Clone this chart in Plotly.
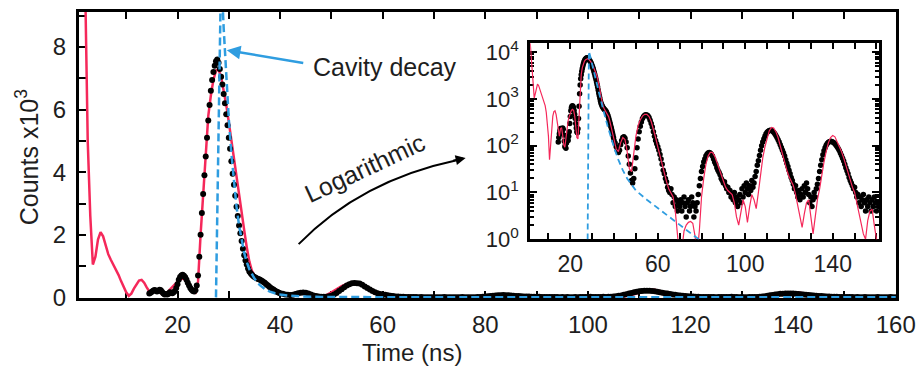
import numpy as np
import plotly.graph_objects as go

# ---------------- measured photon counts ----------------
# 0.25 ns bins across the emission pulse
pulse_start, pulse_step = 14.5, 0.25
pulse_counts = [
    120, 150, 180, 210, 235, 220, 185, 205, 240, 225,          # 14.5 - 16.75
    170, 125, 95, 105, 88, 115, 160, 145, 130, 160,            # 17.0 - 19.25
    200, 300, 420, 560, 650, 700, 720, 690, 640, 560,          # 19.5 - 21.75
    470, 380, 300, 240, 200, 190, 230, 380, 700, 1300,         # 22.0 - 24.25
    2000, 2700, 3300, 3900, 4500, 5100, 5650, 6150, 6600, 6950,  # 24.5 - 26.75
    7200, 7400, 7550, 7600, 7500, 7300, 7050, 6800, 6500, 6200,  # 27.0 - 29.25
    5850, 5500, 5100, 4750, 4350, 3950, 3600, 3250, 2900, 2600,  # 29.5 - 31.75
    2300, 2050, 1800, 1550, 1350, 1180, 1050, 920, 830, 770,     # 32.0 - 34.25
    720, 680, 650, 625, 600, 585, 570, 550, 525, 495,            # 34.5 - 36.75
    465, 430, 395, 360, 325, 295, 265, 240, 215, 190,            # 37.0 - 39.25
    170, 150, 130,                                               # 39.5 - 40.0
]
# 0.5 ns bins for the revivals
tail_start, tail_step = 40.5, 0.5
tail_counts = [
    115, 95, 80, 72, 80, 105, 130, 150, 155, 145,      # 40.5 - 45.0
    120, 90, 60, 40, 26, 18, 16, 20, 32, 55,           # 45.5 - 50.0
    90, 140, 200, 260, 320, 380, 420, 450, 460, 455,   # 50.5 - 55.0
    440, 400, 350, 300, 250, 200, 160, 130, 110, 95,   # 55.5 - 60.0
    80, 65, 52, 40, 30, 25, 20, 17, 13, 11,            # 60.5 - 65.0
    10, 12, 9, 6, 8, 5, 7, 4, 6, 5,                    # 65.5 - 70.0
    7, 4, 6, 8, 5, 3, 6, 7, 4, 5,                      # 70.5 - 75.0
    8, 6, 3, 5, 4, 6, 9, 14, 20, 28,                   # 75.5 - 80.0
    36, 45, 52, 60, 66, 70, 72, 70, 66, 60,            # 80.5 - 85.0
    52, 45, 40, 34, 30, 27, 24, 20, 18, 16,            # 85.5 - 90.0
    17, 14, 12, 13, 10, 11, 8, 9, 7, 10,               # 90.5 - 95.0
    6, 8, 5, 7, 9, 6, 12, 8, 14, 10,                   # 95.5 - 100.0
    16, 12, 9, 14, 11, 18, 13, 16, 22, 28,             # 100.5 - 105.0
    38, 48, 62, 80, 100, 120, 140, 160, 180, 195,      # 105.5 - 110.0
    205, 212, 215, 212, 205, 195, 180, 165, 150, 135,  # 110.5 - 115.0
    120, 105, 92, 80, 70, 60, 50, 42, 36, 30,          # 115.5 - 120.0
    25, 21, 18, 15, 12, 14, 10, 8, 11, 7,              # 120.5 - 125.0
    9, 12, 8, 14, 10, 16, 12, 9, 6, 8,                 # 125.5 - 130.0
    5, 7, 10, 8, 12, 15, 20, 28, 38, 50,               # 130.5 - 135.0
    64, 78, 90, 102, 112, 118, 122, 124, 123, 120,     # 135.5 - 140.0
    116, 110, 103, 95, 87, 79, 70, 62, 54, 47,         # 140.5 - 145.0
    40, 34, 29, 25, 21, 18, 16, 14, 12, 13,            # 145.5 - 150.0
    10, 8, 9, 6, 8, 5, 7, 9, 6, 4,                     # 150.5 - 155.0
    7, 5, 8, 6, 4, 7, 5, 8, 6, 4,                      # 155.5 - 160.0
    6, 5,                                              # 160.5 - 161.0
]

# ---------------- model curve ----------------
theory_fine_start, theory_fine_step = 0.5, 0.5
theory_fine = [
    40000, 40000, 20000, 10000, 5000, 2600, 1050, 1300, 1850, 2080,  # 0.5 - 5.0
    1950, 1650, 1380, 1200, 1050, 900, 720, 520, 330, 160,           # 5.5 - 10.0
    50, 120, 280, 430, 540, 560, 470, 320, 190, 160,                 # 10.5 - 15.0
    230, 245, 170, 105, 93, 150, 250, 340, 420, 500,                 # 15.5 - 20.0
    570, 600, 570, 440, 270, 150, 140, 500, 2000, 3350,              # 20.5 - 25.0
    4700, 5800, 6450, 6950, 7250, 7280, 7050, 6650, 6150, 5600,      # 25.5 - 30.0
    5000, 4400, 3850, 3300, 2700, 2150, 1600, 1150, 850, 700,        # 30.5 - 35.0
    620, 570, 520, 470, 420, 350, 280, 220, 170, 130,                # 35.5 - 40.0
]
theory_coarse_start, theory_coarse_step = 41.0, 1.0
theory_coarse = [
    85, 75, 115, 150, 135, 75, 32, 28, 70, 160,          # 41 - 50
    270, 360, 430, 470, 470, 420, 330, 230, 150, 95,     # 51 - 60
    60, 38, 25, 17, 12, 10, 8, 4, 1.2, 0.4,              # 61 - 70
    0.6, 1.5, 2.0, 2.3, 2.4, 2.2, 1.2, 0.5, 1.5, 8,      # 71 - 80
    20, 40, 60, 72, 72, 60, 45, 32, 24, 17,              # 81 - 90
    13, 11, 10, 9, 6, 3, 2, 4, 7, 5,                     # 91 - 100
    2.3, 5, 9, 7, 4.5, 10, 25, 55, 95, 150,              # 101 - 110
    210, 245, 240, 200, 150, 100, 65, 42, 30, 22,        # 111 - 120
    18, 14, 9, 5, 3, 1.8, 3.5, 6, 7, 3,                  # 121 - 130
    1.3, 3, 7, 12, 25, 45, 75, 115, 150, 165,            # 131 - 140
    155, 125, 95, 75, 55, 38, 25, 17, 13, 10,            # 141 - 150
    6, 4, 2.5, 1.3, 1.0, 2.5, 4, 4.4, 2, 1,              # 151 - 160
    0.8,                                                 # 161
]

# ---------------- bare cavity decay ----------------
cavity_t = [27.5, 28.5, 29.0, 29.5, 30.0, 30.5, 31.0, 31.5, 32.0, 32.5,
            33.0, 33.5, 34.0, 35.0, 36.0, 37.0, 38.0, 39.0, 40.0, 42.0,
            44.0, 46.0, 48.0, 50.0, 55.0, 60.0, 65.0, 70.0, 75.0, 80.0,
            90.0, 100.0, 120.0, 140.0, 160.0]
cavity_c = [0.001, 10500, 8600, 7000, 5700, 4600, 3650, 2900, 2300, 1800,
            1420, 1130, 900, 600, 400, 270, 185, 130, 92, 50,
            30, 20, 14.5, 11, 7, 4.6, 3.0, 2.0, 1.35, 0.9,
            0.4, 0.18, 0.04, 0.008, 0.002]

# ---------------- axis ticks ----------------
main_x_ticks = [20, 40, 60, 80, 100, 120, 140, 160]
main_y_ticks = [0, 2, 4, 6, 8]
inset_x_ticks = [20, 60, 100, 140]
inset_y_ticks = [1, 10, 100, 1000, 10000]
inset_y_labels = ["10<sup>0</sup>", "10<sup>1</sup>", "10<sup>2</sup>",
                  "10<sup>3</sup>", "10<sup>4</sup>"]

# ---------------- assemble series ----------------
t_data = np.concatenate([
    pulse_start + pulse_step * np.arange(len(pulse_counts)),
    tail_start + tail_step * np.arange(len(tail_counts)),
])
c_data = np.array(pulse_counts + tail_counts, dtype=float)

t_theory = np.concatenate([
    theory_fine_start + theory_fine_step * np.arange(len(theory_fine)),
    theory_coarse_start + theory_coarse_step * np.arange(len(theory_coarse)),
])
c_theory = np.array(theory_fine + theory_coarse, dtype=float)

t_cav = np.array(cavity_t)
c_cav = np.array(cavity_c)

RED = "#f5285a"
BLUE = "#2f9de0"
INK = "#1e1e1e"
FONT = "Liberation Sans, Arial, sans-serif"

W, H = 922, 368
ML, MR, MT, MB = 79, 21, 6, 70
PW, PH = W - ML - MR, H - MT - MB


def px(x):
    return (x - ML) / PW


def py(y):
    return (H - MB - y) / PH


fig = go.Figure()

# main panel: linear counts in thousands
fig.add_trace(go.Scatter(x=t_theory, y=c_theory / 1000, mode="lines",
                         line=dict(color=RED, width=2.5),
                         xaxis="x", yaxis="y", showlegend=False))
fig.add_trace(go.Scatter(x=t_data, y=c_data / 1000, mode="markers",
                         marker=dict(color="black", size=6),
                         xaxis="x", yaxis="y", showlegend=False))
fig.add_trace(go.Scatter(x=t_cav, y=c_cav / 1000, mode="lines",
                         line=dict(color=BLUE, width=2.5, dash="8px,4px"),
                         xaxis="x", yaxis="y", showlegend=False))

# inset: logarithmic counts
fig.add_trace(go.Scatter(x=t_data, y=c_data, mode="markers",
                         marker=dict(color="black", size=5.5),
                         xaxis="x2", yaxis="y2", showlegend=False))
fig.add_trace(go.Scatter(x=t_theory, y=c_theory, mode="lines",
                         line=dict(color=RED, width=1.2),
                         xaxis="x2", yaxis="y2", showlegend=False))
fig.add_trace(go.Scatter(x=t_cav, y=c_cav, mode="lines",
                         line=dict(color=BLUE, width=1.8, dash="6px,4px"),
                         xaxis="x2", yaxis="y2", showlegend=False))


def axis_style(size):
    return dict(showline=True, linecolor="black", linewidth=3,
                showgrid=False, zeroline=False, ticks="inside",
                tickcolor="black", tickwidth=2, layer="below traces",
                tickfont=dict(size=size, color=INK, family=FONT))


fig.update_layout(
    width=W, height=H,
    margin=dict(l=ML, r=MR, t=MT, b=MB),
    paper_bgcolor="white", plot_bgcolor="white",
    font=dict(family=FONT, color=INK, size=24),
    xaxis=dict(domain=[0, 1], range=[0.8, 160.05], tickvals=main_x_ticks,
               ticklen=7, mirror="ticks", ticklabelstandoff=3,
               minor=dict(dtick=10, tick0=0, ticks="inside", ticklen=7,
                          tickwidth=2, tickcolor="black"),
               **axis_style(24)),
    yaxis=dict(domain=[0, 1], range=[-0.02, 9.12], tickvals=main_y_ticks,
               ticklen=7, mirror=True, ticklabelstandoff=5,
               minor=dict(dtick=1, tick0=0, ticks="inside", ticklen=7,
                          tickwidth=2, tickcolor="black"),
               **axis_style(24)),
    xaxis2=dict(domain=[px(533), px(884)], anchor="y2", range=[1.68, 161.2],
                tickvals=inset_x_ticks, ticklen=6, mirror="ticks",
                ticklabelstandoff=2,
                minor=dict(dtick=10, tick0=0, ticks="inside", ticklen=6,
                           tickwidth=2, tickcolor="black"),
                **axis_style(23)),
    yaxis2=dict(domain=[py(238), py(38)], anchor="x2", type="log",
                range=[0, 4.19], tickvals=inset_y_ticks,
                ticktext=inset_y_labels, ticklen=7, mirror="ticks",
                ticklabelstandoff=4,
                minor=dict(dtick="D1", ticks="inside", ticklen=4,
                           tickwidth=1.5, tickcolor="black"),
                **axis_style(22)),
)

label_font = dict(size=25, color=INK, family=FONT)
annotations = [
    dict(text="Time (ns)", xref="paper", yref="paper", x=px(414), y=py(354),
         xanchor="center", yanchor="middle", showarrow=False,
         font=dict(size=24, color=INK, family=FONT)),
    dict(text="Counts x10<sup>3</sup>", xref="paper", yref="paper",
         x=px(27), y=py(154), xanchor="center", yanchor="middle",
         textangle=-90, showarrow=False, font=label_font),
    dict(text="Cavity decay", xref="paper", yref="paper", x=px(312), y=py(62),
         xanchor="left", yanchor="middle", showarrow=False, font=label_font),
    dict(text="", xref="x", yref="y", x=29.6, y=7.9, ax=78, ay=13,
         showarrow=True, arrowhead=2, arrowsize=1.1, arrowwidth=2.5,
         arrowcolor=BLUE),
    dict(text="Logarithmic", xref="paper", yref="paper", x=px(366), y=py(165),
         xanchor="center", yanchor="middle", textangle=-25, showarrow=False,
         font=label_font),
    dict(text="", xref="paper", yref="paper", x=px(468), y=py(155),
         ax=-14, ay=3, showarrow=True, arrowhead=2, arrowsize=1,
         arrowwidth=2, arrowcolor="black"),
]
fig.update_layout(annotations=annotations)

# curved pointer towards the inset
fig.add_shape(type="path", xref="paper", yref="paper",
              path=f"M {px(300)},{py(243)} Q {px(362)},{py(178)} {px(460)},{py(157)}",
              line=dict(color="black", width=2))

fig.write_html("out.html")
